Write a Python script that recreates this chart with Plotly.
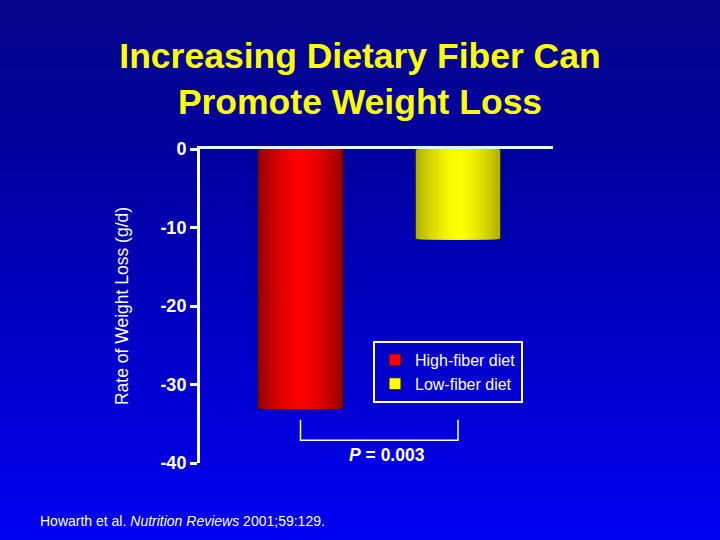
import base64
import plotly.graph_objects as go

# values
groups = ["High-fiber diet", "Low-fiber diet"]
weight_loss = [-33.1, -11.5]          # g/d
edge_colors = [(150, 0, 0), (176, 176, 0)]
center_colors = [(255, 0, 0), (255, 255, 0)]
tick_vals = [0, -10, -20, -30, -40]
tick_text = ["0", "-10", "-20", "-30", "-40"]
p_text = "<i>P</i> = 0.003"
source = "Howarth et al. <i>Nutrition Reviews</i> 2001;59:129."

FONT = "Liberation Sans, Arial, sans-serif"
BAR_W = 0.543
N_LAYERS = 18


def mix(c0, c1, t):
    return "rgb(%d,%d,%d)" % tuple(round(a + (b - a) * t) for a, b in zip(c0, c1))


fig = go.Figure()

# bars: stacked overlay layers, narrower = brighter, to fake the shading
for i, g in enumerate(groups):
    for k in range(N_LAYERS):
        d = 1 - k / N_LAYERS
        t = 1 - d ** 1.6
        fig.add_trace(go.Bar(
            x=[g], y=[weight_loss[i]], width=[BAR_W * d],
            marker=dict(color=mix(edge_colors[i], center_colors[i], t),
                        line=dict(color="#14143c", width=1 if k == 0 else 0)),
            showlegend=False, hoverinfo="skip",
        ))

# legend entries
for i, g in enumerate(groups):
    fig.add_trace(go.Bar(
        x=[None], y=[None], name=g, legendgroup=g,
        marker=dict(color=mix(edge_colors[i], center_colors[i], 1),
                    line=dict(color="#14143c", width=1)),
    ))

# background gradient
svg = ('<svg xmlns="http://www.w3.org/2000/svg" width="10" height="100" preserveAspectRatio="none">'
       '<defs><linearGradient id="g" x1="0" y1="0" x2="0" y2="1">'
       '<stop offset="0" stop-color="#05058a"/>'
       '<stop offset="0.3" stop-color="#0000a0"/>'
       '<stop offset="1" stop-color="#0000f2"/>'
       '</linearGradient></defs><rect width="10" height="100" fill="url(#g)"/></svg>')
bg_uri = "data:image/svg+xml;base64," + base64.b64encode(svg.encode()).decode()

L, R, T, B = 200, 167, 149, 77
pw, ph = 720 - L - R, 540 - T - B

fig.update_layout(
    width=720, height=540,
    margin=dict(l=L, r=R, t=T, b=B),
    paper_bgcolor="#0000c0",
    plot_bgcolor="rgba(0,0,0,0)",
    barmode="overlay",
    font=dict(family=FONT, color="white"),
    title=dict(
        text="<b>Increasing Dietary Fiber Can<br>Promote Weight Loss</b>",
        font=dict(size=35.5, color="#ffff00", family=FONT),
        x=0.5, xref="container", xanchor="center",
        y=1 - 68 / 540, yref="container", yanchor="middle",
    ),
    xaxis=dict(
        range=[-0.638, 1.603], showticklabels=False, ticks="",
        showgrid=False, zeroline=False, side="top",
        showline=True, linecolor="#e0f6ff", linewidth=3,
    ),
    yaxis=dict(
        range=[-40, 0], tickvals=tick_vals, ticktext=tick_text,
        ticks="outside", ticklen=7, tickwidth=3, tickcolor="white",
        tickfont=dict(size=18, color="white", family=FONT, weight="bold"),
        showgrid=False, zeroline=False,
        showline=True, linecolor="white", linewidth=3,
        title=dict(text="Rate of Weight Loss (g/d)", standoff=28,
                   font=dict(size=17.5, color="white", family=FONT)),
    ),
    legend=dict(
        x=(373 - L) / pw, y=(463 - 341) / ph, xanchor="left", yanchor="top",
        bgcolor="rgba(0,0,0,0)", bordercolor="white", borderwidth=2,
        font=dict(size=16, color="white", family=FONT),
        traceorder="grouped", tracegroupgap=0,
    ),
    images=[dict(
        source=bg_uri, xref="paper", yref="paper",
        x=-L / pw, y=(ph + T) / ph, sizex=720 / pw, sizey=540 / ph,
        xanchor="left", yanchor="top", sizing="stretch", layer="below",
    )],
    shapes=[dict(
        type="path", xref="x", yref="y",
        path="M 0,-34.5 L 0,-37.1 L 1,-37.1 L 1,-34.5",
        line=dict(color="white", width=1.5),
    )],
    annotations=[
        dict(text="<b>" + p_text + "</b>", x=0.5, y=-39, xref="x", yref="y",
             xshift=8, showarrow=False, font=dict(size=17.5, color="white")),
        dict(text=source, x=(38 - L) / pw, y=(463 - 521) / ph, xref="paper", yref="paper",
             xanchor="left", yanchor="middle", showarrow=False,
             font=dict(size=14, color="white")),
    ],
)

fig.write_html("out.html", config={"displayModeBar": False},
               post_script="document.body.style.margin='0';")
